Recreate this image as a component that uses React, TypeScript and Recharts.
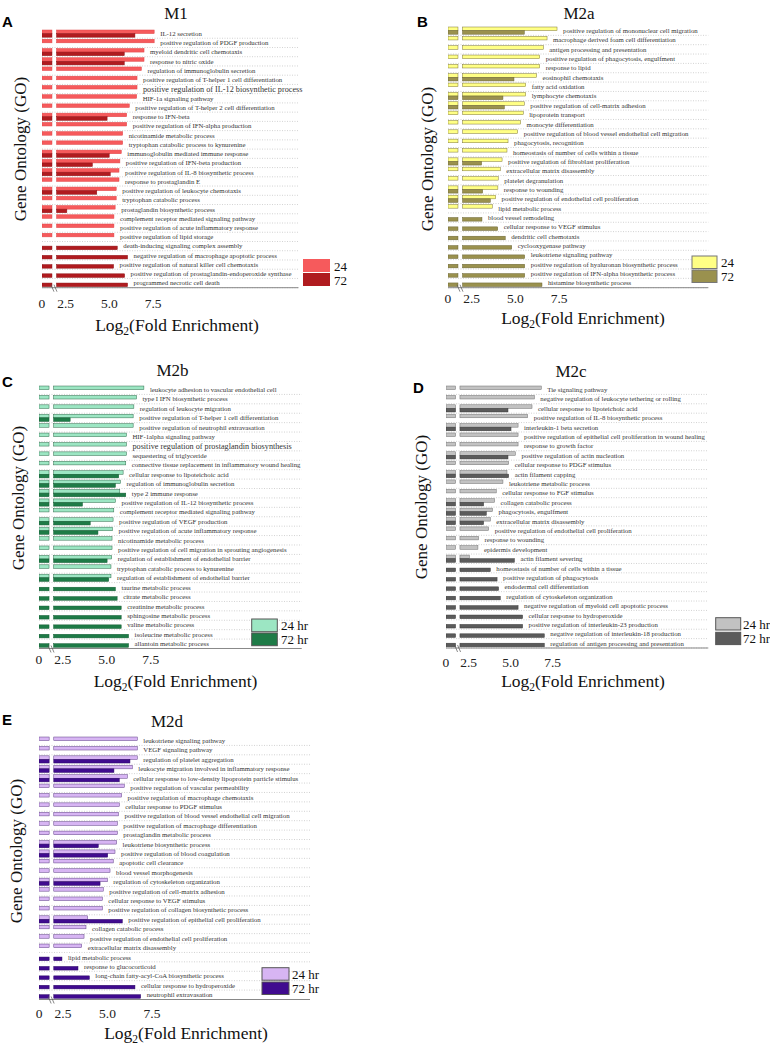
import React from "react";
import { ComposedChart, Bar, Line, XAxis, YAxis, CartesianGrid, LabelList } from "recharts";

// log2 values; the axis is broken between ~0.6 and ~1.8, so everything past
// the break is drawn shifted left by OFFSET
const OFFSET = 1.15;
const BREAK_FROM = 0.57;
const BREAK_TO = 0.83;
const TICK_VALUES = [0, 2.5, 5.0, 7.5];
const TICK_LABELS = ["0", "2.5", "5.0", "7.5"];
const SERIF = "Liberation Serif, Times New Roman, serif";
const SANS = "Liberation Sans, Arial, sans-serif";

// ---- M1 ----
const m1Terms = [
  "IL-12 secretion",
  "positive regulation of PDGF production",
  "myeloid dendritic cell chemotaxis",
  "response to nitric oxide",
  "regulation of immunoglobulin secretion",
  "positive regulation of T-helper 1 cell differentiation",
  "positive regulation of IL-12 biosynthetic process",
  "HIF-1a signaling pathway",
  "positive regulation of T-helper 2 cell differentiation",
  "response to IFN-beta",
  "positive regulation of IFN-alpha production",
  "nicotinamide metabolic process",
  "tryptophan catabolic process to kynurenine",
  "immunoglobulin mediated immune response",
  "positive regulation of IFN-beta production",
  "positive regulation of IL-8 biosynthetic process",
  "response to prostaglandin E",
  "positive regulation of leukocyte chemotaxis",
  "tryptophan catabolic process",
  "prostaglandin biosynthetic process",
  "complement receptor mediated signaling pathway",
  "positive regulation of acute inflammatory response",
  "positive regulation of lipid storage",
  "death-inducing signaling complex assembly",
  "negative regulation of macrophage apoptotic process",
  "positive regulation of natural killer cell chemotaxis",
  "positive regulation of prostaglandin-endoperoxide synthase",
  "programmed necrotic cell death",
];
const m1H24 = [7.56, 7.56, 6.98, 6.98, 6.83, 6.58, 6.58, 6.56, 6.14, 5.99, 5.99, 5.76, 5.76, 5.68, 5.6, 5.55, 5.55, 5.39, 5.39, 5.33, 5.26, 5.26, 5.26, null, null, null, null, null];
const m1H72 = [6.46, null, 5.85, 5.85, null, null, null, null, null, 4.87, null, null, null, 4.99, 4.03, 5.05, null, 4.28, null, 2.57, null, null, null, 5.45, 6.04, 5.24, 5.87, 6.04];

// ---- M2a ----
const m2aTerms = [
  "positive regulation of mononuclear cell migration",
  "macrophage derived foam cell differentiation",
  "antigen processing and presentation",
  "positive regulation of phagocytosis, engulfment",
  "response to lipid",
  "eosinophil chemotaxis",
  "fatty acid oxidation",
  "lymphocyte chemotaxis",
  "positive regulation of cell-matrix adhesion",
  "lipoprotein transport",
  "monocyte differentiation",
  "positive regulation of blood vessel endothelial cell migration",
  "phagocytosis, recognition",
  "homeostasis of number of cells within a tissue",
  "positive regulation of fibroblast proliferation",
  "extracellular matrix disassembly",
  "platelet degranulation",
  "response to wounding",
  "positive regulation of endothelial cell proliferation",
  "lipid metabolic process",
  "blood vessel remodeling",
  "cellular response to VEGF stimulus",
  "dendritic cell chemotaxis",
  "cyclooxygenase pathway",
  "leukotriene signaling pathway",
  "positive regulation of hyaluronan biosynthetic process",
  "positive regulation of IFN-alpha biosynthetic process",
  "histamine biosynthetic process",
];
const m2aH24 = [7.38, 6.81, 6.6, 6.39, 6.39, 6.21, 5.59, 5.59, 5.51, 5.45, 5.3, 5.13, 4.58, 4.52, 4.24, 4.14, 4.02, 4.0, 3.87, 3.68, null, null, null, null, null, null, null, null];
const m2aH72 = [5.51, null, null, null, null, 4.92, null, 4.29, 4.37, null, null, null, null, null, 3.07, null, null, 3.13, 3.57, null, 3.09, 3.99, 4.42, 4.79, 5.53, 5.53, 5.53, 6.52];

// ---- M2b ----
const m2bTerms = [
  "leukocyte adhesion to vascular endothelial cell",
  "type I IFN biosynthetic process",
  "regulation of leukocyte migration",
  "positive regulation of T-helper 1 cell differentiation",
  "positive regulation of neutrophil extravasation",
  "HIF-1alpha signaling pathway",
  "positive regulation of prostaglandin biosynthesis",
  "sequestering of triglyceride",
  "connective tissue replacement in inflammatory wound healing",
  "cellular response to lipoteichoic acid",
  "regulation of immunoglobulin secretion",
  "type 2 immune response",
  "positive regulation of IL-12 biosynthetic process",
  "complement receptor mediated signaling pathway",
  "positive regulation of VEGF production",
  "positive regulation of acute inflammatory response",
  "nicotinamide metabolic process",
  "positive regulation of cell migration in sprouting angiogenesis",
  "regulation of establishment of endothelial barrier",
  "tryptophan catabolic process to kynurenine",
  "regulation of establishment of endothelial barrier",
  "taurine metabolic process",
  "citrate metabolic process",
  "creatinine metabolic process",
  "sphingosine metabolic process",
  "valine metabolic process",
  "isoleucine metabolic process",
  "allantoin metabolic process",
];
const m2bH24 = [7.11, 6.69, 6.54, 6.5, 6.5, 6.12, 6.12, 6.12, 6.08, 5.93, 5.78, 5.74, 5.49, 5.4, 5.36, 5.32, 5.3, 5.3, 5.28, 5.24, 5.24, null, null, null, null, null, null, null];
const m2bH72 = [null, null, null, 2.92, null, null, null, null, null, 5.68, 5.49, 6.08, 3.62, null, 4.06, 4.5, null, null, 5.02, null, 5.11, 5.49, 5.59, 5.82, 5.82, 5.82, 6.24, 6.24];

// ---- M2c ----
const m2cTerms = [
  "Tie signaling pathway",
  "negative regulation of leukocyte tethering or rolling",
  "cellular response to lipoteichoic acid",
  "positive regulation of IL-8 biosynthetic process",
  "interleukin-1 beta secretion",
  "positive regulation of epithelial cell proliferation in wound healing",
  "response to growth factor",
  "positive regulation of actin nucleation",
  "cellular response to PDGF stimulus",
  "actin filament capping",
  "leukotriene metabolic process",
  "cellular response to FGF stimulus",
  "collagen catabolic process",
  "phagocytosis, engulfment",
  "extracellular matrix disassembly",
  "positive regulation of endothelial cell proliferation",
  "response to wounding",
  "epidermis development",
  "actin filament severing",
  "homeostasis of number of cells within a tissue",
  "positive regulation of phagocytosis",
  "endodermal cell differentiation",
  "regulation of cytoskeleton organization",
  "negative regulation of myeloid cell apoptotic process",
  "cellular response to hydroperoxide",
  "positive regulation of interleukin-23 production",
  "negative regulation of interleukin-18 production",
  "regulation of antigen processing and presentation",
];
const m2cH24 = [6.82, 6.41, 6.27, 6.01, 5.44, 5.44, 5.44, 5.28, 4.88, 4.78, 4.54, 4.14, 4.04, 3.92, 3.79, 3.69, 3.09, 3.05, 2.54, null, null, null, null, null, null, null, null, null];
const m2cH72 = [null, null, 4.84, null, 5.02, null, null, 4.84, null, 4.88, null, null, 3.39, 3.55, 3.39, null, null, null, 5.22, 3.79, 4.19, 4.28, 4.38, 5.44, 5.71, 5.71, 7.0, 7.0];

// ---- M2d ----
const m2dTerms = [
  "leukotriene signaling pathway",
  "VEGF signaling pathway",
  "regulation of platelet aggregation",
  "leukocyte migration involved in inflammatory response",
  "cellular response to low-density lipoprotein particle stimulus",
  "positive regulation of vascular permeability",
  "positive regulation of macrophage chemotaxis",
  "cellular response to PDGF stimulus",
  "positive regulation of blood vessel endothelial cell migration",
  "positive regulation of macrophage differentiation",
  "prostaglandin metabolic process",
  "leukotriene biosynthetic process",
  "positive regulation of blood coagulation",
  "apoptotic cell clearance",
  "blood vessel morphogenesis",
  "regulation of cytoskeleton organization",
  "positive regulation of cell-matrix adhesion",
  "cellular response to VEGF stimulus",
  "positive regulation of collagen biosynthetic process",
  "positive regulation of epithelial cell proliferation",
  "collagen catabolic process",
  "positive regulation of endothelial cell proliferation",
  "extracellular matrix disassembly",
  "lipid metabolic process",
  "response to glucocorticoid",
  "long-chain fatty-acyl-CoA biosynthetic process",
  "cellular response to hydroperoxide",
  "neutrophil extravasation",
];
const m2dH24 = [6.67, 6.67, 6.67, 6.39, 6.11, 5.94, 5.79, 5.66, 5.61, 5.55, 5.55, 5.51, 5.42, 5.32, 5.14, 4.99, 4.76, 4.71, 4.71, 3.88, 3.79, 3.68, 3.55, null, null, null, null, null];
const m2dH72 = [null, null, 6.26, 5.36, 5.66, null, null, null, null, null, null, 4.48, 5.01, null, null, 4.58, null, null, null, 5.83, null, null, null, 2.44, 3.34, 3.98, 6.54, 6.86];

type Val = number | null;

interface PanelSpec {
  key: string;
  title: string;
  letter: string;
  terms: string[];
  h24: Val[];
  h72: Val[];
  legend: string[];
  bigTerms: string[];
  // plot box in page pixels + px per log2 unit
  left: number;
  right: number;
  top: number;
  bottom: number;
  k: number;
  tickDy: number;
  light: string;
  lightStroke: string;
  dark: string;
  darkStroke: string;
  boxStroke: string;
  titleAt: [number, number];
  letterAt: [number, number];
  yLabelAt: [number, number];
  xLabelAt: [number, number];
  legendAt: { x: number; y1: number; y2: number; w: number; h: number; tx: number };
}

const panels: PanelSpec[] = [
  {
    key: "m1", title: "M1", letter: "A", terms: m1Terms, h24: m1H24, h72: m1H72, legend: ["24", "72"],
    bigTerms: ["positive regulation of IL-12 biosynthetic process"],
    left: 41.5, right: 298, top: 29.3, bottom: 288, k: 17.5, tickDy: 20,
    light: "#F65A5C", lightStroke: "#E04648", dark: "#B01B1F", darkStroke: "#8E1216", boxStroke: "none",
    titleAt: [176, 18.5], letterAt: [2, 27], yLabelAt: [26, 149], xLabelAt: [177, 331],
    legendAt: { x: 303, y1: 259, y2: 273, w: 27, h: 13, tx: 334 },
  },
  {
    key: "m2a", title: "M2a", letter: "B", terms: m2aTerms, h24: m2aH24, h72: m2aH72, legend: ["24", "72"],
    bigTerms: [],
    left: 447.7, right: 708, top: 26.3, bottom: 288, k: 17.5, tickDy: 15,
    light: "#FFFF85", lightStroke: "#7D7536", dark: "#9A914E", darkStroke: "#6A6434", boxStroke: "#777",
    titleAt: [579, 18.5], letterAt: [417, 27], yLabelAt: [433, 159], xLabelAt: [583, 324],
    legendAt: { x: 692, y1: 256, y2: 270, w: 25, h: 12.5, tx: 721 },
  },
  {
    key: "m2b", title: "M2b", letter: "C", terms: m2bTerms, h24: m2bH24, h72: m2bH72, legend: ["24 hr", "72 hr"],
    bigTerms: ["positive regulation of prostaglandin biosynthesis"],
    left: 39, right: 301.7, top: 384.5, bottom: 648, k: 17.6, tickDy: 16,
    light: "#9CE6C3", lightStroke: "#2F6A4B", dark: "#1E7B47", darkStroke: "#135C33", boxStroke: "#555",
    titleAt: [172.5, 376], letterAt: [2, 387], yLabelAt: [24, 498], xLabelAt: [175.5, 687],
    legendAt: { x: 251.7, y1: 619, y2: 633, w: 25.6, h: 12.7, tx: 281 },
  },
  {
    key: "m2c", title: "M2c", letter: "D", terms: m2cTerms, h24: m2cH24, h72: m2cH72, legend: ["24 hr", "72 hr"],
    bigTerms: [],
    left: 445.7, right: 708, top: 385, bottom: 648, k: 16.8, tickDy: 19,
    light: "#C2C2C2", lightStroke: "#6E6E6E", dark: "#5B5B5B", darkStroke: "#3A3A3A", boxStroke: "#555",
    titleAt: [571, 377], letterAt: [413, 393], yLabelAt: [427, 507], xLabelAt: [583, 686.5],
    legendAt: { x: 715.7, y1: 617.7, y2: 632.3, w: 25, h: 12.3, tx: 743 },
  },
  {
    key: "m2d", title: "M2d", letter: "E", terms: m2dTerms, h24: m2dH24, h72: m2dH72, legend: ["24 hr", "72 hr"],
    bigTerms: [],
    left: 39, right: 310, top: 735.5, bottom: 999, k: 17.8, tickDy: 18,
    light: "#D7B5F3", lightStroke: "#5C3C84", dark: "#400B8F", darkStroke: "#2A0664", boxStroke: "#555",
    titleAt: [167, 727], letterAt: [2, 725], yLabelAt: [22, 851], xLabelAt: [186, 1039],
    legendAt: { x: 262, y1: 967.7, y2: 982, w: 27, h: 12.5, tx: 292 },
  },
];

const toDisplay = (v: number) => (v === 0 ? 0 : v - OFFSET);

// bar drawn in two pieces so the axis break shows as a white gap
const brokenBar = (k: number) => (props: any) => {
  const { x, y, width, height, fill, stroke } = props;
  if (!width || width <= 0) return <g />;
  const g1 = BREAK_FROM * k;
  const g2 = BREAK_TO * k;
  return (
    <g>
      <rect x={x} y={y} width={Math.min(g1, width)} height={height} fill={fill} stroke={stroke} strokeWidth={0.5} />
      {width > g2 && (
        <rect x={x + g2} y={y} width={width - g2} height={height} fill={fill} stroke={stroke} strokeWidth={0.5} />
      )}
    </g>
  );
};

const axisTick = (k: number, dy: number) => (props: any) => {
  const { x, y, payload } = props;
  const idx = TICK_VALUES.map(toDisplay).findIndex((t) => Math.abs(t - payload.value) < 1e-6);
  const bx = x + BREAK_FROM * k;
  return (
    <g>
      <text x={x} y={y + dy} textAnchor="middle" fontSize={13.5} style={{ fontFamily: SERIF }} fill="#222">
        {TICK_LABELS[idx] ?? ""}
      </text>
      {idx === 0 && (
        <g stroke="#555" strokeWidth={0.7}>
          <line x1={bx - 1} y1={y - 3} x2={bx + 2} y2={y + 4} />
          <line x1={bx + 2} y1={y - 3} x2={bx + 5} y2={y + 4} />
        </g>
      )}
    </g>
  );
};

const termLabel = (big: string[]) => (p: any) => {
  const x = p.x ?? p.viewBox?.x;
  const y = p.y ?? p.viewBox?.y;
  if (x == null || y == null) return null;
  const isBig = big.includes(p.value);
  return (
    <text x={x + 6} y={y} dy="0.35em" fontSize={isBig ? 8.2 : 6.8} style={{ fontFamily: SERIF }} fill="#333">
      {p.value}
    </text>
  );
};

function Panel({ spec }: { spec: PanelSpec }) {
  const rows = spec.terms.map((term, i) => {
    const a = spec.h24[i];
    const b = spec.h72[i];
    return {
      term,
      d24: a == null ? null : toDisplay(a),
      d72: b == null ? null : toDisplay(b),
      dmax: toDisplay(Math.max(a ?? 0, b ?? 0)),
    };
  });
  const ML = 5, MT = 5, MR = 20, XH = 30;
  const plotW = spec.right - spec.left;
  const plotH = spec.bottom - spec.top;
  const n = rows.length;

  return (
    <div style={{ position: "absolute", left: spec.left - ML, top: spec.top - MT }}>
      <ComposedChart
        layout="vertical"
        width={ML + plotW + MR}
        height={MT + plotH + XH}
        data={rows}
        margin={{ top: MT, right: MR, bottom: 0, left: ML }}
        barGap={0}
        barSize={3.6}
      >
        <CartesianGrid
          vertical={false}
          stroke="#d2d2d2"
          strokeDasharray="1 1.5"
          horizontalCoordinatesGenerator={({ offset }: any) =>
            rows.map((_, i) => offset.top + ((i + 1) * offset.height) / n)
          }
        />
        <XAxis
          type="number"
          domain={[0, plotW / spec.k]}
          allowDataOverflow
          ticks={TICK_VALUES.map(toDisplay)}
          interval={0}
          tickLine={false}
          tickSize={0}
          tickMargin={0}
          height={XH}
          axisLine={{ stroke: "#888" }}
          tick={axisTick(spec.k, spec.tickDy)}
        />
        <YAxis type="category" width={0} tick={false} tickLine={false} axisLine={{ stroke: "#333" }} />
        <Bar dataKey="d24" fill={spec.light} stroke={spec.lightStroke} shape={brokenBar(spec.k)} isAnimationActive={false} />
        <Bar dataKey="d72" fill={spec.dark} stroke={spec.darkStroke} shape={brokenBar(spec.k)} isAnimationActive={false} />
        <Line dataKey="dmax" stroke="none" dot={false} activeDot={false} isAnimationActive={false}>
          <LabelList dataKey="term" content={termLabel(spec.bigTerms)} />
        </Line>
      </ComposedChart>
    </div>
  );
}

const serifStyle = { fontFamily: SERIF };

function Decorations() {
  return (
    <svg width={770} height={1050} style={{ position: "absolute", left: 0, top: 0, pointerEvents: "none" }}>
      {panels.map((p) => {
        const lg = p.legendAt;
        return (
          <g key={p.key}>
            <text x={p.titleAt[0]} y={p.titleAt[1]} textAnchor="middle" fontSize={17} style={serifStyle} fill="#111">
              {p.title}
            </text>
            <text x={p.letterAt[0]} y={p.letterAt[1]} fontSize={15} fontWeight="bold" style={{ fontFamily: SANS }} fill="#000">
              {p.letter}
            </text>
            <text
              transform={`translate(${p.yLabelAt[0]},${p.yLabelAt[1]}) rotate(-90)`}
              textAnchor="middle"
              fontSize={17}
              style={serifStyle}
              fill="#111"
            >
              Gene Ontology (GO)
            </text>
            <text x={p.xLabelAt[0]} y={p.xLabelAt[1]} textAnchor="middle" fontSize={17.5} style={serifStyle} fill="#111">
              <tspan>Log</tspan>
              <tspan dy={4} fontSize={11.5}>2</tspan>
              <tspan dy={-4}>(Fold Enrichment)</tspan>
            </text>
            <rect x={lg.x} y={lg.y1} width={lg.w} height={lg.h} fill={p.light} stroke={p.boxStroke} strokeWidth={1} />
            <rect x={lg.x} y={lg.y2} width={lg.w} height={lg.h} fill={p.dark} stroke={p.boxStroke} strokeWidth={1} />
            <text x={lg.tx} y={lg.y1 + lg.h - 1.5} fontSize={13} style={serifStyle} fill="#111">{p.legend[0]}</text>
            <text x={lg.tx} y={lg.y2 + lg.h - 1.5} fontSize={13} style={serifStyle} fill="#111">{p.legend[1]}</text>
          </g>
        );
      })}
    </svg>
  );
}

export default function App() {
  return (
    <div style={{ position: "absolute", left: 0, top: 0, width: 770, height: 1050, background: "#fff", overflow: "hidden" }}>
      {panels.map((p) => (
        <Panel key={p.key} spec={p} />
      ))}
      <Decorations />
    </div>
  );
}
